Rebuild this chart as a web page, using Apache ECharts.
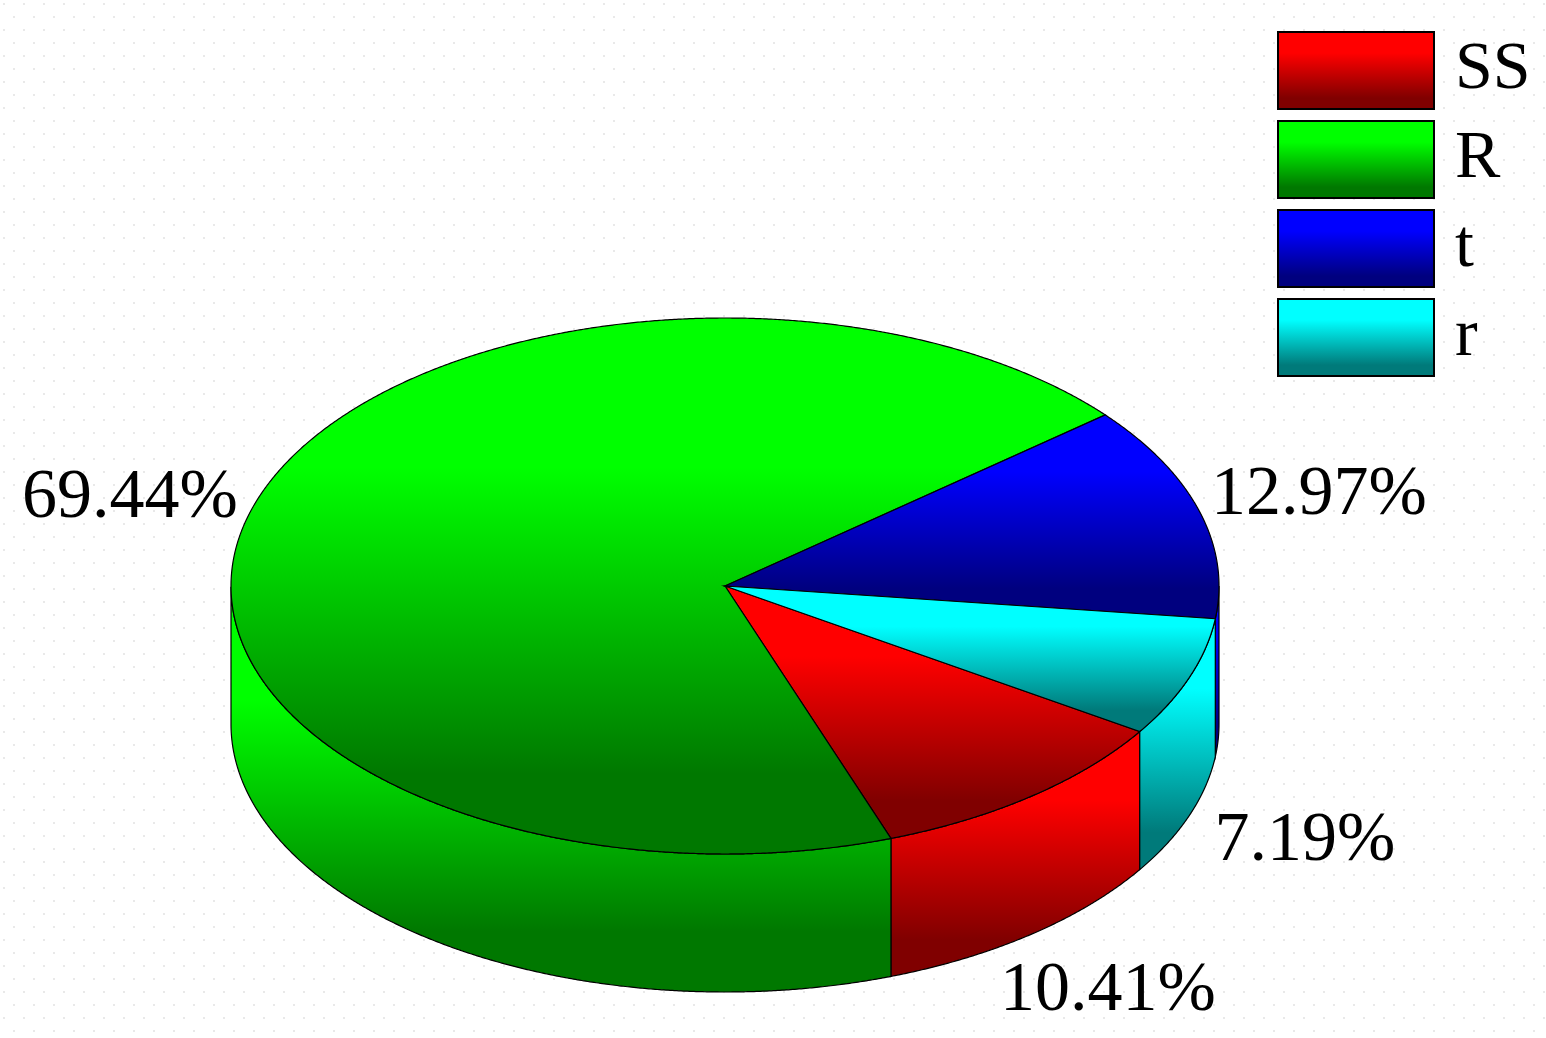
<!DOCTYPE html>
<html>
<head>
<meta charset="utf-8">
<style>
    html, body { margin: 0; padding: 0; background: #fff; }
    #chart { width: 1546px; height: 1038px; }
</style>
<script src="https://cdn.jsdelivr.net/npm/echarts@6/dist/echarts.min.js"></script>
</head>
<body>
<div id="chart"></div>
<script>
const categories = ['SS', 'R', 't', 'r'];
const percents = [10.41, 69.44, 12.97, 7.19];
const percentLabels = ['10.41%', '69.44%', '12.97%', '7.19%'];

const brightColors = ['#ff0000', '#00ff00', '#0000ff', '#00ffff'];
const darkColors = ['#800000', '#007800', '#00007f', '#007a7a'];

// layout of the drawing, in pixels / pie units
const labelSpots = [[1108, 992], [130, 499], [1319, 496], [1305, 842]];
const firstAngle = -32.9; // slices run clockwise from here
const depth = 0.515;      // wall height, in units of the vertical radius
const fontName = '"Liberation Serif", "Times New Roman", serif';

const total = percents.reduce((a, b) => a + b, 0);

const gradient = (i) => ({
    type: 'linear', x: 0, y: 0, x2: 0, y2: 1,
    colorStops: [
        { offset: 0, color: brightColors[i] },
        { offset: 0.28, color: brightColors[i] },
        { offset: 0.85, color: darkColors[i] },
        { offset: 1, color: darkColors[i] }
    ]
});

// faint dotted paper of the original
const paper = document.createElement('canvas');
paper.width = 20;
paper.height = 26;
const paperCtx = paper.getContext('2d');
paperCtx.fillStyle = '#e9e9e9';
[[3, 3], [13, 16]].forEach((p) => paperCtx.fillRect(p[0], p[1], 2, 2));

const sliceRange = (i) => {
    let start = firstAngle;
    for (let k = 0; k < i; k++) start -= percents[k] / total * 360;
    return [start, start - percents[i] / total * 360];
};

const renderSlice = (i) => (params, api) => {
    const [from, to] = sliceRange(i);
    const rim = [];
    const wallTop = [];
    const wallBottom = [];
    const steps = Math.ceil((from - to) * 4);
    for (let k = 0; k <= steps; k++) {
        const t = (from + (to - from) * k / steps) * Math.PI / 180;
        const x = Math.cos(t);
        const y = Math.sin(t);
        rim.push(api.coord([x, y]));
        // only the front half of the wall can be seen
        if (y <= 0) {
            wallTop.push(api.coord([x, y]));
            wallBottom.unshift(api.coord([x, y - depth]));
        }
    }
    const lineStyle = { fill: gradient(i), stroke: '#000', lineWidth: 1.2 };
    const [lx, ly] = labelSpots[i];
    return {
        type: 'group',
        children: [
            {
                type: 'polygon',
                shape: { points: wallTop.concat(wallBottom) },
                style: lineStyle
            },
            {
                type: 'polygon',
                shape: { points: [api.coord([0, 0])].concat(rim) },
                style: lineStyle
            },
            {
                type: 'text',
                style: {
                    x: lx,
                    y: ly,
                    text: percentLabels[i],
                    fill: '#000',
                    font: '70px ' + fontName,
                    textAlign: 'center',
                    textVerticalAlign: 'middle'
                }
            }
        ]
    };
};

const chart = echarts.init(document.getElementById('chart'));
chart.setOption({
    animation: false,
    backgroundColor: { image: paper, repeat: 'repeat' },
    grid: { left: 231, top: 318, width: 988, height: 674 },
    xAxis: { type: 'value', min: -1, max: 1, show: false },
    yAxis: { type: 'value', min: -1 - depth, max: 1, show: false },
    legend: {
        left: 1277,
        top: 31,
        padding: 0,
        orient: 'vertical',
        icon: 'rect',
        itemWidth: 156,
        itemHeight: 77,
        itemGap: 10,
        selectedMode: false,
        data: categories,
        itemStyle: { borderColor: '#000', borderWidth: 2 },
        textStyle: {
            color: '#000',
            fontFamily: fontName,
            fontSize: 68,
            lineHeight: 64,
            padding: [10, 0, 0, 16]
        }
    },
    series: categories.map((name, i) => ({
        type: 'custom',
        name: name,
        coordinateSystem: 'cartesian2d',
        silent: true,
        clip: false,
        itemStyle: { color: gradient(i) },
        data: [[percents[i], 0]],
        renderItem: renderSlice(i)
    }))
});
</script>
</body>
</html>
